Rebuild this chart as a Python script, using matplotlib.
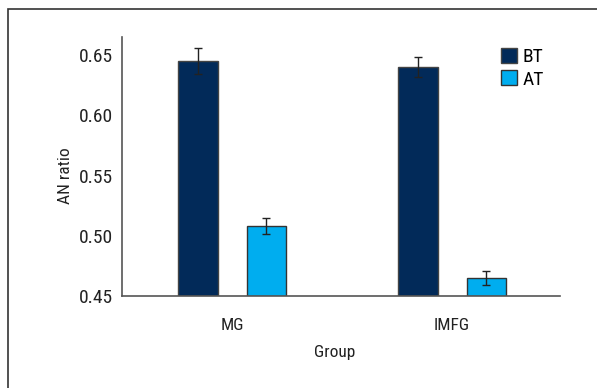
import numpy as np
import matplotlib.pyplot as plt
from matplotlib import font_manager
from matplotlib.patches import Rectangle

# data
groups = ['MG', 'IMFG']
bt_mean = [0.645, 0.640]
bt_err = [0.0105, 0.0083]
at_mean = [0.508, 0.465]
at_err = [0.0068, 0.0055]
yticks = [0.45, 0.50, 0.55, 0.60, 0.65]

# pick a narrow font if one is installed
names = {f.name for f in font_manager.fontManager.ttflist}
family = 'DejaVu Sans'
for cand in ['Liberation Sans Narrow', 'Roboto Condensed', 'Open Sans Condensed',
             'Noto Sans Condensed', 'DejaVu Sans Condensed', 'Roboto']:
    if cand in names:
        family = cand
        break
plt.rcParams['font.family'] = [family, 'DejaVu Sans']

fig = plt.figure(figsize=(5.97, 3.88), dpi=100)
ax = fig.add_axes([122 / 597, 1 - 296 / 388, 438 / 597, 259 / 388])

# outer frame (top and left edges visible)
fig.patches.append(Rectangle((8 / 597, -0.1), 1.2, 1 - 9 / 388 + 0.1,
                             transform=fig.transFigure, fill=False,
                             edgecolor='#333333', linewidth=1.2))

x = np.arange(len(groups))
off = 0.156
w = 0.18
err_kw = dict(ecolor='#222222', elinewidth=1, capsize=3, capthick=1)
ax.bar(x - off, np.array(bt_mean) - 0.45, w, bottom=0.45, yerr=bt_err,
       color='#022a59', edgecolor='#444444', linewidth=1, label='BT',
       error_kw=err_kw)
ax.bar(x + off, np.array(at_mean) - 0.45, w, bottom=0.45, yerr=at_err,
       color='#00adef', edgecolor='#333333', linewidth=1, label='AT',
       error_kw=err_kw)

ax.set_xlim(-0.5, 1.49)
ax.set_ylim(0.45, 0.665)
ax.set_yticks(yticks)
ax.set_yticklabels([f'{v:.2f}' for v in yticks], fontsize=14, color='#222222')
ax.set_xticks(x)
ax.set_xticklabels(groups, fontsize=12.5, color='#222222')
ax.tick_params(axis='both', length=0)
ax.tick_params(axis='x', pad=16)
ax.tick_params(axis='y', pad=6.5)

for s in ['top', 'right']:
    ax.spines[s].set_visible(False)
for s in ['left', 'bottom']:
    ax.spines[s].set_color('#555555')
    ax.spines[s].set_linewidth(1.2)

fig.text(65 / 597, 1 - 176 / 388, 'AN ratio', fontsize=12.5, color='#222222',
         ha='center', va='center', rotation=90)
fig.text(335 / 597, 1 - 352 / 388, 'Group', fontsize=12.5, color='#222222',
         ha='center', va='center')

ax.legend(loc='upper left', bbox_to_anchor=(0.865, 0.9575),
          frameon=False, fontsize=14, handlelength=0.82, handleheight=0.82,
          handletextpad=0.3, labelspacing=0.2, borderpad=0, borderaxespad=0)

fig.savefig('out.png', dpi=100)
